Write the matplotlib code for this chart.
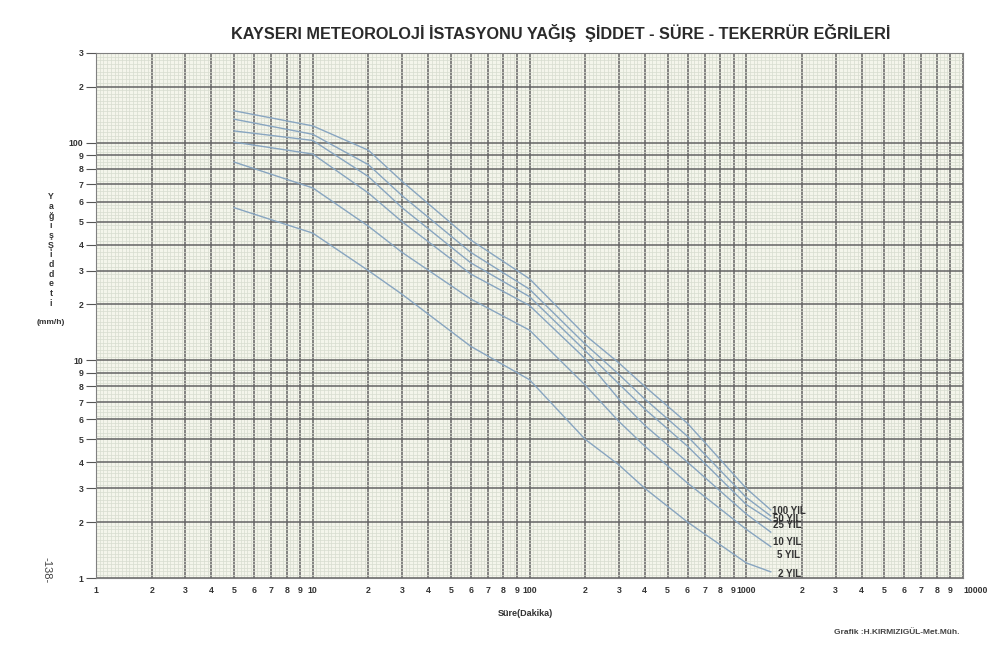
import numpy as np
import matplotlib
matplotlib.use("Agg")
import matplotlib.pyplot as plt
from matplotlib.ticker import FixedLocator, NullFormatter, FixedFormatter

plt.rcParams['font.family'] = ['Liberation Sans', 'DejaVu Sans']

# ---- data ----
durations = [5, 10, 20, 30, 60, 100, 200, 300, 400, 600, 1000, 1440]
iyi_2 = [57, 45, 30, 23, 12.5, 8.5, 5.0, 3.9, 3.0, 2.0, 1.27, 1.11]
iyi_5 = [85, 68, 48, 37, 21.6, 15.4, 8.1, 5.9, 4.7, 3.2, 1.87, 1.56]
iyi_10 = [101, 91, 65, 50, 29, 19.8, 10.3, 7.2, 5.7, 4.0, 2.24, 1.82]
iyi_25 = [121, 104, 75, 57, 33, 22.3, 11.7, 8.2, 6.6, 4.7, 2.52, 2.05]
iyi_50 = [142, 115, 83, 63.5, 37, 24.5, 12.9, 8.9, 7.2, 5.15, 2.73, 2.18]
iyi_100 = [157, 130, 94, 72, 42, 27.6, 14.5, 9.8, 8.0, 5.8, 3.0, 2.36]
series_labels = ["2 YIL", "5 YIL", "10 YIL", "25 YIL", "50 YIL", "100 YIL"]

x_major = [1, 2, 3, 4, 5, 6, 7, 8, 9, 10, 20, 30, 40, 50, 60, 70, 80, 90, 100,
           200, 300, 400, 500, 600, 700, 800, 900, 1000,
           2000, 3000, 4000, 5000, 6000, 7000, 8000, 9000, 10000]
x_labels = ["1", "2", "3", "4", "5", "6", "7", "8", "9", "10", "2", "3", "4", "5", "6", "7", "8", "9", "100",
            "2", "3", "4", "5", "6", "7", "8", "9", "1000",
            "2", "3", "4", "5", "6", "7", "8", "9", "10000"]
y_major = [1, 2, 3, 4, 5, 6, 7, 8, 9, 10, 20, 30, 40, 50, 60, 70, 80, 90, 100, 200, 300]
y_labels = ["1", "2", "3", "4", "5", "6", "7", "8", "9", "10", "2", "3", "4", "5", "6", "7", "8", "9", "100", "2", "3"]

title = "KAYSERI METEOROLOJİ İSTASYONU YAĞIŞ  ŞİDDET - SÜRE - TEKERRÜR EĞRİLERİ"

# the printed log paper spaces the lines 1..10 of each decade like this
paper_m = np.array([1, 2, 3, 4, 5, 6, 7, 8, 9, 10], dtype=float)
paper_f = np.array([0, 0.257, 0.412, 0.532, 0.637, 0.729, 0.808, 0.880, 0.942, 1.0])


def paper_fwd(v):
    v = np.asarray(v, dtype=float)
    v = np.where(v > 0, v, 1e-6)
    lg = np.log10(v)
    d = np.floor(lg + 1e-12)
    m = v / 10.0 ** d
    return d + np.interp(m, paper_m, paper_f)


def paper_inv(u):
    u = np.asarray(u, dtype=float)
    d = np.floor(u + 1e-12)
    m = np.interp(u - d, paper_f, paper_m)
    return m * 10.0 ** d


W, H = 991, 654
fig = plt.figure(figsize=(W / 100, H / 100), dpi=100)
fig.patch.set_facecolor("white")
ax = fig.add_axes([96 / W, (H - 578) / H, (963 - 96) / W, (578 - 53) / H])
ax.set_xscale("function", functions=(paper_fwd, paper_inv))
ax.set_yscale("function", functions=(paper_fwd, paper_inv))
ax.set_xlim(1, 10000)
ax.set_ylim(1, 300)
ax.set_facecolor("#f4f5eb")


def fine(vals, px_per_unit):
    out = []
    for a, b in zip(vals[:-1], vals[1:]):
        width = (paper_fwd(b) - paper_fwd(a)) * px_per_unit
        n = max(2, int(round(width / 3.6)))
        out.extend(np.linspace(a, b, n + 1)[1:-1])
    return out


ax.xaxis.set_major_locator(FixedLocator(x_major))
ax.xaxis.set_major_formatter(FixedFormatter(x_labels))
ax.xaxis.set_minor_locator(FixedLocator(fine(x_major, 216.75)))
ax.xaxis.set_minor_formatter(NullFormatter())
ax.yaxis.set_major_locator(FixedLocator(y_major))
ax.yaxis.set_major_formatter(FixedFormatter(y_labels))
ax.yaxis.set_minor_locator(FixedLocator(fine(y_major, 217.7)))
ax.yaxis.set_minor_formatter(NullFormatter())

ax.grid(True, which="minor", color="#d7dccf", linewidth=0.5)
ax.grid(True, which="major", color="#646464", linewidth=1.1)
ax.set_axisbelow(True)
for s in ax.spines.values():
    s.set_color("#808080")
    s.set_linewidth(0.8)

ax.tick_params(axis="both", which="minor", length=0)
ax.tick_params(axis="y", which="major", length=7, width=0.8, color="#555555",
               labelsize=6.3, pad=2)
ax.tick_params(axis="x", which="major", length=0, labelsize=6.3, pad=6)
for lab in ax.get_xticklabels() + ax.get_yticklabels():
    lab.set_fontweight("bold")
    lab.set_color("#333333")
ax.get_xticklabels()[-1].set_horizontalalignment("left")

curve_color = "#88a5c0"
all_series = [iyi_2, iyi_5, iyi_10, iyi_25, iyi_50, iyi_100]
for vals in all_series:
    ax.plot(durations, vals, color=curve_color, linewidth=1.0)

# end labels
label_dy = {"2 YIL": -2, "5 YIL": -8, "10 YIL": -10, "25 YIL": -5, "50 YIL": -3, "100 YIL": -1}
label_dx = {"2 YIL": 7, "5 YIL": 6, "10 YIL": 2, "25 YIL": 2, "50 YIL": 2, "100 YIL": 1}
for lab, vals in zip(series_labels, all_series):
    ax.annotate(lab, xy=(durations[-1], vals[-1]), xytext=(label_dx[lab], label_dy[lab]),
                textcoords="offset pixels", fontsize=7, color="#333333",
                va="center", ha="left", fontweight="bold")

fig.text(561 / W, 1 - 33 / H, title, ha="center", va="center", fontsize=11.7,
         fontweight="bold", color="#2a2a2a")

ylab = "\n".join(list("Yağış Şiddeti".replace(" ", "")))
fig.text(51 / W, 1 - 250 / H, ylab, ha="center", va="center", fontsize=6.3,
         fontweight="bold", color="#333333", linespacing=1.1)
fig.text(51 / W, 1 - 322 / H, "(mm/h)", ha="center", va="center", fontsize=6,
         fontweight="bold", color="#333333")
fig.text(525 / W, 1 - 614 / H, "Süre(Dakika)", ha="center", va="center", fontsize=6.5,
         fontweight="bold", color="#333333")
fig.text(960 / W, 1 - 632 / H, "Grafik :H.KIRMIZIGÜL-Met.Müh.", ha="right", va="center",
         fontsize=6, fontweight="bold", color="#444444")
fig.text(47 / W, 1 - 570 / H, "-138-", ha="center", va="center", fontsize=8,
         rotation=-90, color="#444444")

fig.savefig("out.png", dpi=100)
